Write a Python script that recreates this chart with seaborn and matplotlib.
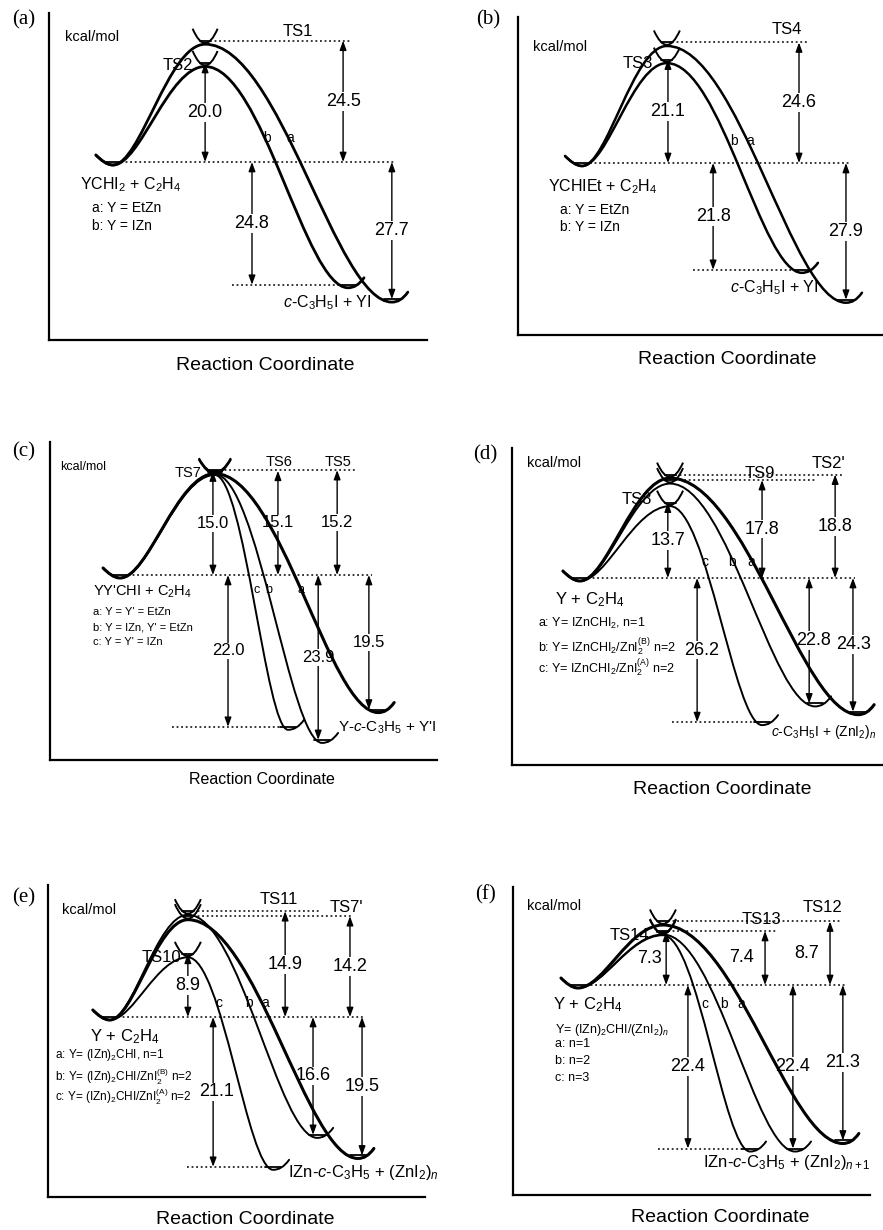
"""
Energy profiles (a)-(f) for the cyclopropanation pathways.
Output: out.png
"""

import matplotlib
matplotlib.use('Agg')
import matplotlib.pyplot as plt
from matplotlib.path import Path
from matplotlib.patches import PathPatch
import seaborn as sns

sns.set_theme(style='white')
plt.rcParams['font.family'] = ['Liberation Sans', 'DejaVu Sans']
plt.rcParams.update({
    'mathtext.fontset': 'custom',
    'mathtext.rm': 'Liberation Sans',
    'mathtext.it': 'Liberation Sans:italic',
    'mathtext.bf': 'Liberation Sans:bold',
    'text.color': 'black',
})

W_PX, H_PX = 883, 1230

# barrier heights / reaction energies in kcal/mol (paths a, b, c), relative to reactants
BARRIER_A = [24.5, 20.0]
ENERGY_A = [-27.7, -24.8]
BARRIER_B = [24.6, 21.1]
ENERGY_B = [-27.9, -21.8]
BARRIER_C = [15.2, 15.1, 15.0]
ENERGY_C = [-19.5, -23.9, -22.0]
BARRIER_D = [18.8, 17.8, 13.7]
ENERGY_D = [-24.3, -22.8, -26.2]
BARRIER_E = [14.2, 14.9, 8.9]
ENERGY_E = [-19.5, -16.6, -21.1]
BARRIER_F = [8.7, 7.4, 7.3]
ENERGY_F = [-21.3, -22.4, -22.4]

BARRIERS = {'a': BARRIER_A, 'b': BARRIER_B, 'c': BARRIER_C,
            'd': BARRIER_D, 'e': BARRIER_E, 'f': BARRIER_F}
ENERGIES = {'a': ENERGY_A, 'b': ENERGY_B, 'c': ENERGY_C,
            'd': ENERGY_D, 'e': ENERGY_E, 'f': ENERGY_F}

# layout: axes rect in pixels (left, top, right, bottom), reactant level (px), px per kcal,
# positions along the reaction coordinate on a 0-100 scale
LAYOUT = {
    'a': dict(rect=(49, 13, 427, 340), zero=162, scale=4.95, x_react=16.9, x_ts=41.3,
              x_prod=[90.7, 79.1], ts_arrow=[77.8, 41.3], prod_arrow=[90.7, 53.7],
              ts_line=[80.2, None], react_line=91.5, prod_line=[None, 48.4],
              lw=[2.0, 2.0], cup=12.5, num=13),
    'b': dict(rect=(518, 17, 882, 335), zero=163, scale=4.9, x_react=17.6, x_ts=40.9,
              x_prod=[90.1, 78.0], ts_arrow=[77.2, 41.2], prod_arrow=[90.1, 53.6],
              ts_line=[79.4, None], react_line=91.2, prod_line=[None, 48.1],
              lw=[1.8, 1.8], cup=13, num=13),
    'c': dict(rect=(50, 442, 437, 760), zero=575, scale=6.9, x_react=18.1, x_ts=42.6,
              x_prod=[84.8, 70.3, 61.5], ts_arrow=[74.2, 58.9, 42.1],
              prod_arrow=[82.4, 69.3, 46.0], ts_line=[79.3, None, None], react_line=83.2,
              prod_line=[None, None, 31.5], lw=[2.2, 1.4, 1.4], cup=16, num=12),
    'd': dict(rect=(512, 448, 883, 765), zero=578, scale=5.5, x_react=18.3, x_ts=42.6,
              x_prod=[93.3, 81.7, 67.4], ts_arrow=[87.1, 67.4, 42.0],
              prod_arrow=[91.9, 80.1, 49.9], ts_line=[89.2, 81.7, None], react_line=92.5,
              prod_line=[None, None, 43.1], lw=[2.2, 1.4, 1.4], cup=13, num=13,
              prod_dx=[1, 4, 4]),
    'e': dict(rect=(48, 885, 425, 1197), zero=1017, scale=7.1, x_react=16.4, x_ts=37.1,
              x_prod=[82.2, 71.4, 59.7], ts_arrow=[80.1, 62.9, 37.1],
              prod_arrow=[83.3, 70.3, 43.8], ts_line=[80.9, 72.1, None], react_line=83.6,
              prod_line=[None, None, 36.9], lw=[2.2, 1.4, 1.4], cup=13, num=13,
              prod_dx=[0, 0, 3]),
    'f': dict(rect=(513, 887, 870, 1195), zero=985, scale=7.3, x_react=18.2, x_ts=42.0,
              x_prod=[92.4, 79.0, 66.4], ts_arrow=[88.8, 70.6, 42.9],
              prod_arrow=[92.4, 78.4, 49.0], ts_line=[91.6, 73.9, None], react_line=93.6,
              prod_line=[None, None, 40.6], lw=[2.2, 1.4, 1.4], cup=13, num=13,
              ts_dx=[-11, -11, -4], ts_ha='right'),
}

# free labels: (x px, y px, text, size)
LABELS = [
    (65, 37, 'kcal/mol', 10.5), (283, 32, 'TS1', 12), (163, 65, 'TS2', 12),
    (263, 138, 'b', 10), (286, 138, 'a', 10),
    (80, 185, r'YCHI$_2$ + C$_2$H$_4$', 11.5),
    (92, 208, 'a: Y = EtZn', 10), (92, 226, 'b: Y = IZn', 10),
    (283, 303, r'$c$-C$_3$H$_5$I + YI', 11.5),

    (533, 47, 'kcal/mol', 10.5), (772, 30, 'TS4', 12), (623, 63, 'TS3', 12),
    (730, 141, 'b', 10), (746, 141, 'a', 10),
    (548, 187, r'YCHIEt + C$_2$H$_4$', 11.5),
    (560, 210, 'a: Y = EtZn', 10), (560, 227, 'b: Y = IZn', 10),
    (730, 288, r'$c$-C$_3$H$_5$I + YI', 11.5),

    (60, 467, 'kcal/mol', 9), (175, 473, 'TS7', 10.5),
    (266, 462, 'TS6', 10.5), (325, 462, 'TS5', 10.5),
    (253, 590, 'c', 9), (265, 590, 'b', 9), (297, 590, 'a', 9),
    (93, 592, "YY'CHI + C$_2$H$_4$", 10.5),
    (93, 612, "a: Y = Y' = EtZn", 8), (93, 627, "b: Y = IZn, Y' = EtZn", 8),
    (93, 642, "c: Y = Y' = IZn", 8),
    (338, 728, "Y-$c$-C$_3$H$_5$ + Y'I", 11),

    (527, 463, 'kcal/mol', 10.5), (745, 474, 'TS9', 12), (812, 463, "TS2'", 12),
    (622, 500, 'TS8', 12),
    (701, 562, 'c', 10), (728, 562, 'b', 10), (747, 562, 'a', 10),
    (555, 600, r'Y + C$_2$H$_4$', 12),
    (538, 623, r'a: Y= IZnCHI$_2$, n=1', 9),
    (538, 647, r'b: Y= IZnCHI$_2$/ZnI$_2^{\mathrm{(B)}}$ n=2', 9),
    (538, 668, r'c: Y= IZnCHI$_2$/ZnI$_2^{\mathrm{(A)}}$ n=2', 9),
    (771, 732, r'$c$-C$_3$H$_5$I + (ZnI$_2$)$_n$', 10),

    (62, 910, 'kcal/mol', 10.5), (260, 900, 'TS11', 12), (330, 908, "TS7'", 12),
    (142, 957, 'TS10', 12),
    (215, 1003, 'c', 10), (245, 1003, 'b', 10), (261, 1003, 'a', 10),
    (90, 1037, r'Y + C$_2$H$_4$', 12),
    (55, 1055, r'a: Y= (IZn)$_2$CHI, n=1', 8.5),
    (55, 1077, r'b: Y= (IZn)$_2$CHI/ZnI$_2^{\mathrm{(B)}}$ n=2', 8.5),
    (55, 1097, r'c: Y= (IZn)$_2$CHI/ZnI$_2^{\mathrm{(A)}}$ n=2', 8.5),
    (288, 1172, r'IZn-$c$-C$_3$H$_5$ + (ZnI$_2$)$_n$', 12),

    (527, 906, 'kcal/mol', 10.5), (742, 920, 'TS13', 12), (803, 908, 'TS12', 12),
    (610, 935, 'TS14', 12),
    (701, 1004, 'c', 10), (720, 1004, 'b', 10), (737, 1004, 'a', 10),
    (553, 1005, r'Y + C$_2$H$_4$', 12),
    (555, 1030, r'Y= (IZn)$_2$CHI/(ZnI$_2$)$_n$', 9),
    (555, 1044, 'a: n=1', 9), (555, 1061, 'b: n=2', 9), (555, 1078, 'c: n=3', 9),
    (703, 1163, r'IZn-$c$-C$_3$H$_5$ + (ZnI$_2$)$_{n+1}$', 12),
]

PANEL_LETTERS = [(12, 20, '(a)'), (476, 20, '(b)'), (12, 452, '(c)'),
                 (473, 455, '(d)'), (12, 898, '(e)'), (475, 895, '(f)')]
AXIS_TITLES = [(265, 365, 14), (727, 360, 14), (262, 780, 11.5),
               (722, 790, 14), (245, 1220, 14), (720, 1218, 14)]


def profile_path(xr, xt, xp, et, ep, ux, uy):
    """Smooth reactant -> TS -> product curve with horizontal tangents at the extrema."""
    yr, yt, yp = -3 * uy, et - 3.5 * uy, ep - 3 * uy
    d1, d2 = xt - xr, xp - xt
    verts = [
        (xr - 17 * ux, 7 * uy),
        (xr - 12 * ux, 2 * uy), (xr - 6 * ux, yr), (xr, yr),
        (xr + 0.3 * d1, yr), (xt - 0.4 * d1, yt), (xt, yt),
        (xt + 0.4 * d2, yt), (xp - 0.3 * d2, yp), (xp, yp),
        (xp + 6 * ux, yp), (xp + 11 * ux, yp + 3 * uy), (xp + 16 * ux, yp + 10 * uy),
    ]
    return Path(verts, [Path.MOVETO] + [Path.CURVE4] * 12)


def ts_cup(ax, x, e, ux, uy, half):
    v = e - 2.5 * uy
    top = e + 12 * uy
    cup = Path([(x - half * ux, top), (x, 2 * v - top), (x + half * ux, top)],
               [Path.MOVETO, Path.CURVE3, Path.CURVE3])
    ax.add_patch(PathPatch(cup, fill=False, edgecolor='black', lw=1.4, zorder=4))
    zw = 0.42 * half * ux
    ax.plot([x - zw, x + zw], [e, e], color='black', lw=1.3, zorder=4)


def well_line(ax, x, e, ux):
    ax.plot([x - 8 * ux, x + 8 * ux], [e, e], color='black', lw=1.3, zorder=4)


def level(ax, x0, x1, e):
    ax.plot([x0, x1], [e, e], color='black', lw=1.1, ls=(0, (1.2, 1.8)), zorder=1)


def arrow(ax, x, e, label, size, dx=0, ha='center', ux=1.0):
    ax.annotate('', xy=(x, e), xytext=(x, 0),
                arrowprops=dict(arrowstyle='<|-|>,head_length=0.55,head_width=0.2',
                                lw=1.0, color='black', shrinkA=0, shrinkB=0,
                                mutation_scale=10), zorder=2)
    ax.text(x + dx * ux, e / 2, label, ha=ha, va='center', fontsize=size, zorder=3,
            bbox=dict(facecolor='white', edgecolor='none', pad=0.6))


fig = plt.figure(figsize=(W_PX / 100, H_PX / 100), dpi=100)

for key in 'abcdef':
    lay = LAYOUT[key]
    left, top, right, bottom = lay['rect']
    w, h = right - left, bottom - top
    ax = fig.add_axes([left / W_PX, 1 - bottom / H_PX, w / W_PX, h / H_PX])
    ux = 100.0 / w
    uy = 1.0 / lay['scale']
    ax.set_xlim(0, 100)
    ax.set_ylim(-(bottom - lay['zero']) * uy, (lay['zero'] - top) * uy)
    ax.set_xticks([])
    ax.set_yticks([])
    ax.patch.set_alpha(0)
    sns.despine(ax=ax)
    for side in ('left', 'bottom'):
        ax.spines[side].set_linewidth(1.6)
        ax.spines[side].set_color('black')

    xr, xt = lay['x_react'], lay['x_ts']
    barriers, energies = BARRIERS[key], ENERGIES[key]
    ts_dx = lay.get('ts_dx', [0] * len(barriers))
    prod_dx = lay.get('prod_dx', [0] * len(barriers))
    ts_ha = lay.get('ts_ha', 'center')

    # reactant well and reference level
    well_line(ax, xr, 0, ux)
    level(ax, xr + 8 * ux, lay['react_line'], 0)

    for i, (et, ep) in enumerate(zip(barriers, energies)):
        xp = lay['x_prod'][i]
        curve = profile_path(xr, xt, xp, et, ep, ux, uy)
        ax.add_patch(PathPatch(curve, fill=False, edgecolor='black', lw=lay['lw'][i],
                               zorder=4, capstyle='round'))
        ts_cup(ax, xt, et, ux, uy, lay['cup'])
        well_line(ax, xp, ep, ux)

        if lay['ts_line'][i] is not None:
            level(ax, xt + 5 * ux, lay['ts_line'][i], et)
        if lay['prod_line'][i] is not None:
            level(ax, lay['prod_line'][i], xp - 8 * ux, ep)

        arrow(ax, lay['ts_arrow'][i], et, f'{et:.1f}', lay['num'],
              dx=ts_dx[i], ha=ts_ha, ux=ux)
        arrow(ax, lay['prod_arrow'][i], ep, f'{abs(ep):.1f}', lay['num'],
              dx=prod_dx[i], ux=ux)

for x, y, text, size in LABELS:
    fig.text(x / W_PX, 1 - y / H_PX, text, fontsize=size, ha='left', va='center')

for x, y, text in PANEL_LETTERS:
    fig.text(x / W_PX, 1 - y / H_PX, text, fontsize=15, ha='left', va='center',
             family=['Liberation Serif', 'DejaVu Serif'])

for x, y, size in AXIS_TITLES:
    fig.text(x / W_PX, 1 - y / H_PX, 'Reaction Coordinate', fontsize=size,
             ha='center', va='center')

fig.savefig('out.png', dpi=100, facecolor='white')
